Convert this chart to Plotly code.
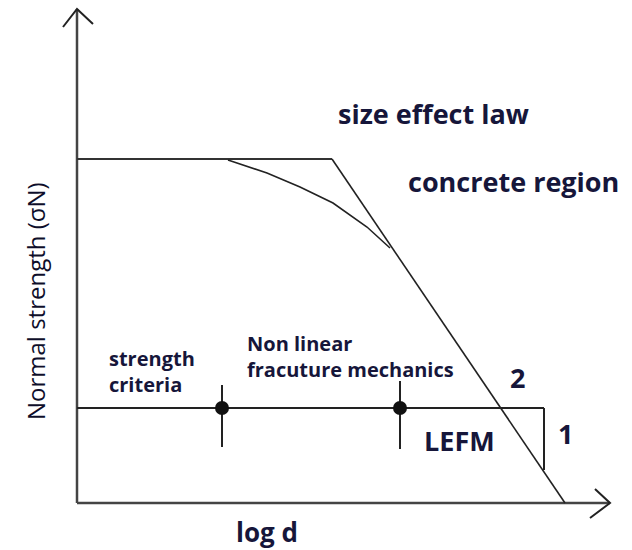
import plotly.graph_objects as go

# Schematic coordinates (diagram space: x to the right, y downward, 632x550 canvas)
y_axis_x = [77, 77]
y_axis_y = [503, 9]
x_axis_x = [77, 610]
x_axis_y = [503, 503]
y_arrow_x = [63, 77, 93]
y_arrow_y = [27, 9, 24]
x_arrow_x = [595, 610, 590]
x_arrow_y = [489, 503, 518]

plateau_x = [77, 332]
plateau_y = [159, 159]
lefm_line_x = [332, 565]
lefm_line_y = [159, 503]
curve_x = [228, 267, 300, 333, 367, 390]
curve_y = [160, 173, 187, 203, 227, 248]

ref_line_x = [77, 544]
ref_line_y = [408, 408]
slope_x = [544, 544]
slope_y = [408, 470]

tick1_x = [222, 222]
tick1_y = [385, 447]
tick2_x = [400, 400]
tick2_y = [381, 449]
dots_x = [222, 400]
dots_y = [408, 408]

labels = [
    ("size effect law", 433, 113, "center", 27),
    ("concrete region", 513, 181, "center", 27),
    ("strength<br>criteria", 107, 371, "left", 20),
    ("Non linear<br>fracuture mechanics", 245, 356, "left", 20),
    ("LEFM", 459, 440, "center", 27),
    ("2", 517, 377, "center", 27),
    ("1", 565, 433, "center", 27),
    ("log d", 267, 532, "center", 26),
]
y_title = "Normal strength (σN)"

fig = go.Figure()
line_col = "#333333"

def seg(xs, ys, w=2, c=line_col):
    fig.add_trace(go.Scatter(x=xs, y=ys, mode="lines",
                             line=dict(color=c, width=w), hoverinfo="skip",
                             showlegend=False))

seg(y_axis_x, y_axis_y, 2.5, "#444444")
seg(x_axis_x, x_axis_y, 2.5, "#444444")
seg(y_arrow_x, y_arrow_y, 2, "#222222")
seg(x_arrow_x, x_arrow_y, 2, "#222222")
seg(plateau_x, plateau_y, 2)
seg(lefm_line_x, lefm_line_y, 1.6, "#222222")
seg(curve_x, curve_y, 1.6, "#222222")
seg(ref_line_x, ref_line_y, 2, "#222222")
seg(slope_x, slope_y, 2, "#222222")
seg(tick1_x, tick1_y, 2, "#222222")
seg(tick2_x, tick2_y, 2, "#222222")
fig.add_trace(go.Scatter(x=dots_x, y=dots_y, mode="markers",
                         marker=dict(color="#111111", size=14, symbol="circle"),
                         hoverinfo="skip", showlegend=False))

txt_col = "#16163a"
font_fam = "Open Sans, Noto Sans, sans-serif"
for text, x, y, anchor, size in labels:
    fig.add_annotation(x=x, y=y, xref="x", yref="y", text="<b>" + text + "</b>",
                       showarrow=False, xanchor=anchor, yanchor="middle",
                       align="left",
                       font=dict(family=font_fam, size=size, color=txt_col))

fig.add_annotation(x=35, y=301, xref="x", yref="y", text=y_title, textangle=-90,
                   showarrow=False, xanchor="center", yanchor="middle",
                   font=dict(family=font_fam, size=24, color="#0e0e2a"))

fig.update_layout(
    width=632, height=550,
    margin=dict(l=0, r=0, t=0, b=0),
    paper_bgcolor="white", plot_bgcolor="white",
    xaxis=dict(range=[0, 632], visible=False, fixedrange=True),
    yaxis=dict(range=[550, 0], visible=False, fixedrange=True),
)

fig.write_html("out.html", config={"displayModeBar": False},
               post_script="document.body.style.margin='0px';document.body.style.overflow='hidden';")
